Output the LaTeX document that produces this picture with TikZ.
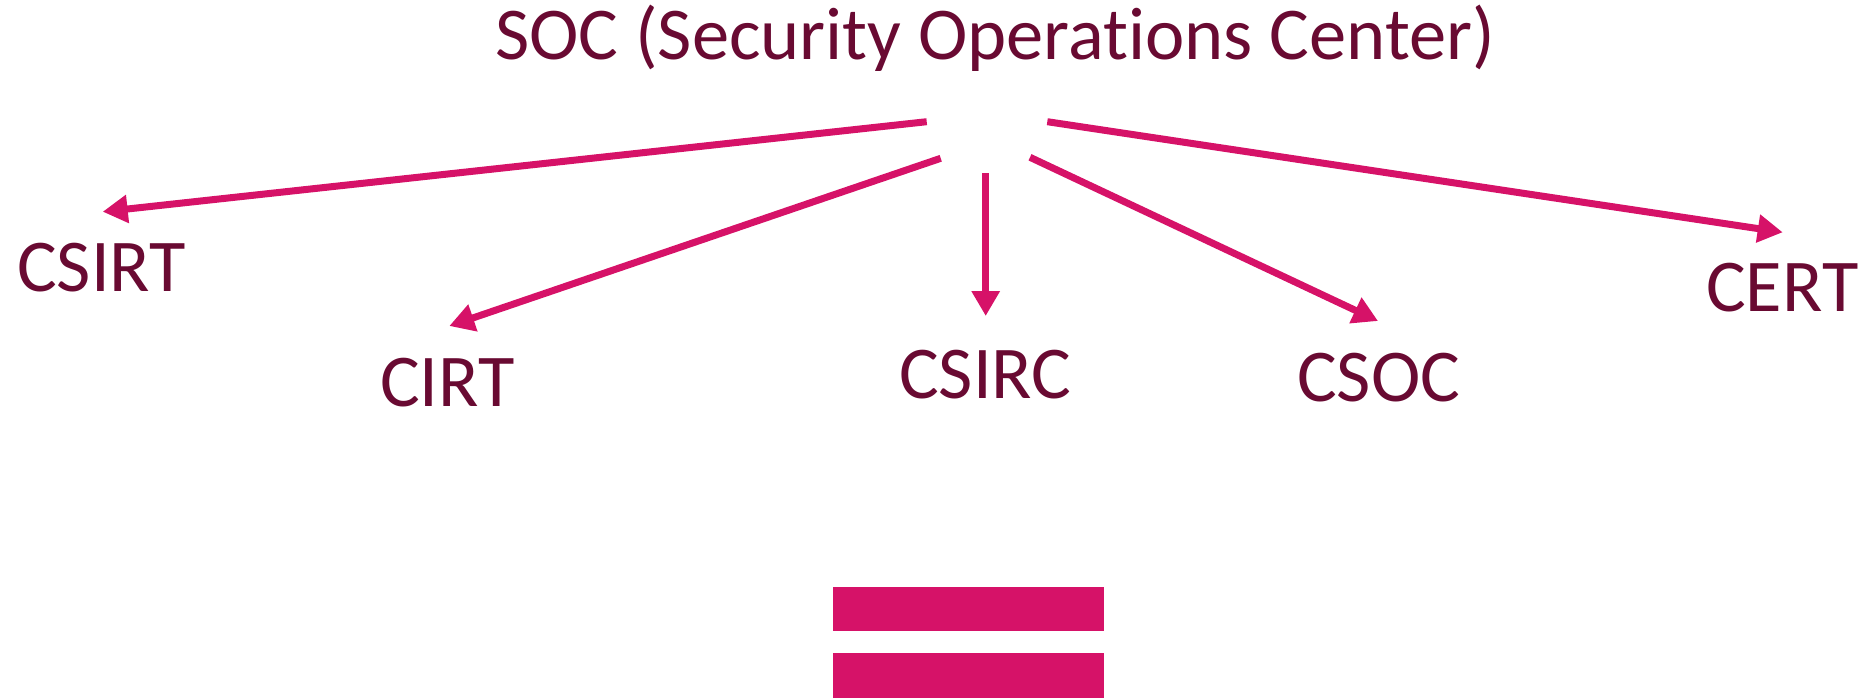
\documentclass[tikz,border=0pt]{standalone}
\usepackage{fontspec}
\setmainfont{Carlito}[Ligatures={NoCommon,NoContextual}]
\usetikzlibrary{arrows.meta}
\definecolor{labeltext}{RGB}{105,10,50}
\definecolor{accent}{RGB}{214,18,104}
\begin{document}
\begin{tikzpicture}[x=1pt,y=-1pt,
  label/.style={inner sep=0pt, anchor=base west, text=labeltext,
    font=\fontsize{74.5pt}{80pt}\selectfont},
  link/.style={draw=accent, line width=7pt,
    -{Triangle[length=25pt,width=27pt]}}]
  \useasboundingbox (0,0) rectangle (1867,698);

  % headline and the five kinds of team
  \node[label] (soc)   at (495,60)    {SOC (Security Operations Center)};
  \node[label] (csirt) at (17,291.7)  {CSIRT};
  \node[label] (cirt)  at (380,406.7) {CIRT};
  \node[label] (csirc) at (899,398.3) {CSIRC};
  \node[label] (csoc)  at (1297,401.7){CSOC};
  \node[label] (cert)  at (1706,311)  {CERT};

  % where each arrow leaves the headline and where it points
  \coordinate (s1) at (926.7,121.7);  \coordinate (t1) at (102.7,211.7);
  \coordinate (s2) at (940.7,158.3);  \coordinate (t2) at (449.3,326);
  \coordinate (s3) at (985.7,173.3);  \coordinate (t3) at (985.7,316);
  \coordinate (s4) at (1030,157.3);   \coordinate (t4) at (1378,321);
  \coordinate (s5) at (1047.3,121.7); \coordinate (t5) at (1782.7,232.3);

  \draw[link] (s1) -- (t1);
  \draw[link] (s2) -- (t2);
  \draw[link] (s3) -- (t3);
  \draw[link] (s4) -- (t4);
  \draw[link] (s5) -- (t5);

  % equals sign
  \fill[accent] (833,587) rectangle (1104,631);
  \fill[accent] (833,653) rectangle (1104,697.5);
\end{tikzpicture}
\end{document}
